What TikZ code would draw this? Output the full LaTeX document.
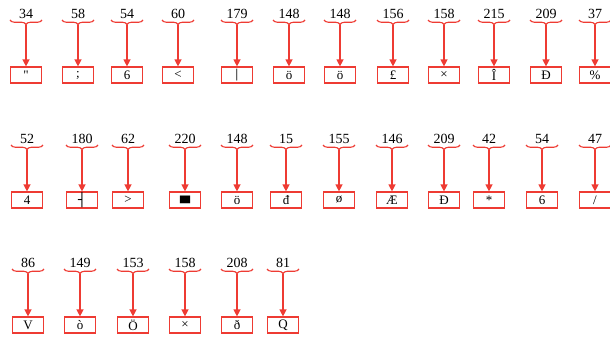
\documentclass[tikz,border=0pt]{standalone}
\usepackage{fontspec}
\setmainfont{Liberation Serif}
\newfontfamily\boxfont{DejaVu Sans}
\usetikzlibrary{arrows.meta,decorations.pathreplacing}
\definecolor{codered}{HTML}{EE3B33}

\begin{document}
\begin{tikzpicture}[
        x=1pt, y=-1pt,
        >={Triangle[length=7pt,width=7pt]},
        code/.style={inner sep=0pt, font=\fontsize{14}{16}\selectfont},
        cell/.style={draw=codered, line width=1.2pt, minimum width=31pt, minimum height=16pt, inner sep=0pt, font=\fontsize{13}{15}\selectfont},
        grp/.style={draw=codered, line width=1.1pt, decorate, decoration={brace, mirror, amplitude=4.5pt}},
        arrow/.style={->, draw=codered, line width=1.3pt}
    ]
    \useasboundingbox (0,0) rectangle (610,337);

    % first row
    \foreach \x/\n/\c [count=\i] in {26/34/{\textquotedbl}, 78/58/{;}, 127/54/6, 178/60/{<},
            237/179/{\boxfont\raisebox{-3pt}{\fontsize{10}{10}\selectfont │}}, 289/148/ö, 340/148/ö, 393/156/£,
            444/158/×, 494/215/Î, 546/209/Ð, 595/37/{\%}} {
        \node[code] (n1-\i) at (\x,14) {\n};
        \draw[grp] (\x-16,20) -- (\x+16,20);
        \coordinate (t1-\i) at (\x,25);
        \node[cell] (c1-\i) at (\x,75) {\c};
        \draw[arrow] (t1-\i) -- (c1-\i.north);
    }

    % second row
    \foreach \x/\n/\c [count=\i] in {27/52/4, 82/180/{\boxfont ┤}, 128/62/{>}, 185/220/{\boxfont ▄},
            237/148/ö, 286/15/đ, 339/155/ø, 392/146/Æ,
            444/209/Ð, 489/42/*, 542/54/6, 595/47/{/}} {
        \node[code] (n2-\i) at (\x,139) {\n};
        \draw[grp] (\x-16,145) -- (\x+16,145);
        \coordinate (t2-\i) at (\x,150);
        \node[cell] (c2-\i) at (\x,200) {\c};
        \draw[arrow] (t2-\i) -- (c2-\i.north);
    }

    % third row
    \foreach \x/\n/\c [count=\i] in {28/86/V, 80/149/ò, 133/153/Ö, 185/158/×,
            237/208/ð, 283/81/Q} {
        \node[code] (n3-\i) at (\x,263) {\n};
        \draw[grp] (\x-16,269) -- (\x+16,269);
        \coordinate (t3-\i) at (\x,274);
        \node[cell] (c3-\i) at (\x,325) {\c};
        \draw[arrow] (t3-\i) -- (c3-\i.north);
    }
\end{tikzpicture}
\end{document}
